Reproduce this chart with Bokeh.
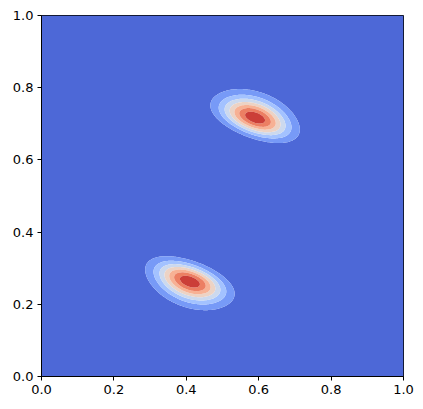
import math
import numpy as np
from bokeh.plotting import figure
from bokeh.models import FixedTicker, NumeralTickFormatter, Range1d
from bokeh.embed import file_html
from bokeh.resources import INLINE

# Blob parameters: peak position, spreads along the
# tilted axes, tilt angle (degrees) and skew along the minor axis
blob_cx = [0.590, 0.410]
blob_cy = [0.717, 0.263]
blob_s_major = [0.064, 0.064]
blob_s_minor = [0.043, 0.043]
blob_angle = [-20.0, -20.0]
blob_skew_major = [0.0, 0.0]
blob_skew_minor = [1.5, -1.5]
blob_amp = [0.97, 0.97]

levels = [-0.001, 0.125, 0.25, 0.375, 0.5, 0.625, 0.75, 0.875, 1.0]
fill_colors = ["#4d68d7", "#779af7", "#a3c2ff", "#ccd9ee",
               "#ecd3c5", "#f7b194", "#ec7f63", "#cb3e38"]
tick_values = [0.0, 0.2, 0.4, 0.6, 0.8, 1.0]

verf = np.vectorize(math.erf)


def blob_shape(dx, dy, s1, s2, ang, k1, k2):
    t = math.radians(ang)
    u = (dx * math.cos(t) + dy * math.sin(t)) / s1
    v = (-dx * math.sin(t) + dy * math.cos(t)) / s2
    return np.exp(-0.5 * (u * u + v * v)) * 0.5 * (1 + verf((k1 * u + k2 * v) / math.sqrt(2)))


n = 300
gx = np.linspace(0, 1, n)
gy = np.linspace(0, 1, n)
X, Y = np.meshgrid(gx, gy)
Z = np.zeros_like(X)

lx = np.linspace(-0.15, 0.15, 301)
LX, LY = np.meshgrid(lx, lx)
for cx, cy, s1, s2, ang, k1, k2, a in zip(blob_cx, blob_cy, blob_s_major, blob_s_minor,
                                          blob_angle, blob_skew_major, blob_skew_minor, blob_amp):
    local = blob_shape(LX, LY, s1, s2, ang, k1, k2)
    k = np.argmax(local)
    mx, my = LX.flat[k], LY.flat[k]
    peak = local.flat[k]
    Z += a / peak * blob_shape(X - cx + mx, Y - cy + my, s1, s2, ang, k1, k2)

p = figure(frame_width=362, frame_height=361, output_backend="svg",
           toolbar_location=None, x_range=Range1d(0, 1), y_range=Range1d(0, 1),
           min_border_left=41, min_border_top=15, min_border_right=12,
           min_border_bottom=25)
p.contour(X, Y, Z, levels, fill_color=fill_colors, line_color=None)

p.grid.visible = False
p.outline_line_color = "black"
p.outline_line_width = 1
p.outline_line_alpha = 1
for ax in (p.xaxis[0], p.yaxis[0]):
    ax.ticker = FixedTicker(ticks=tick_values)
    ax.formatter = NumeralTickFormatter(format="0.0")
    ax.minor_tick_line_color = None
    ax.major_tick_in = 0
    ax.major_tick_out = 4
    ax.major_tick_line_color = "black"
    ax.axis_line_color = "black"
    ax.major_label_text_font = "DejaVu Sans"
    ax.major_label_text_font_size = "13px"
    ax.major_label_text_color = "black"
p.xaxis[0].major_label_standoff = 4
p.yaxis[0].major_label_standoff = 4

open("out.html", "w").write(file_html(p, INLINE))
